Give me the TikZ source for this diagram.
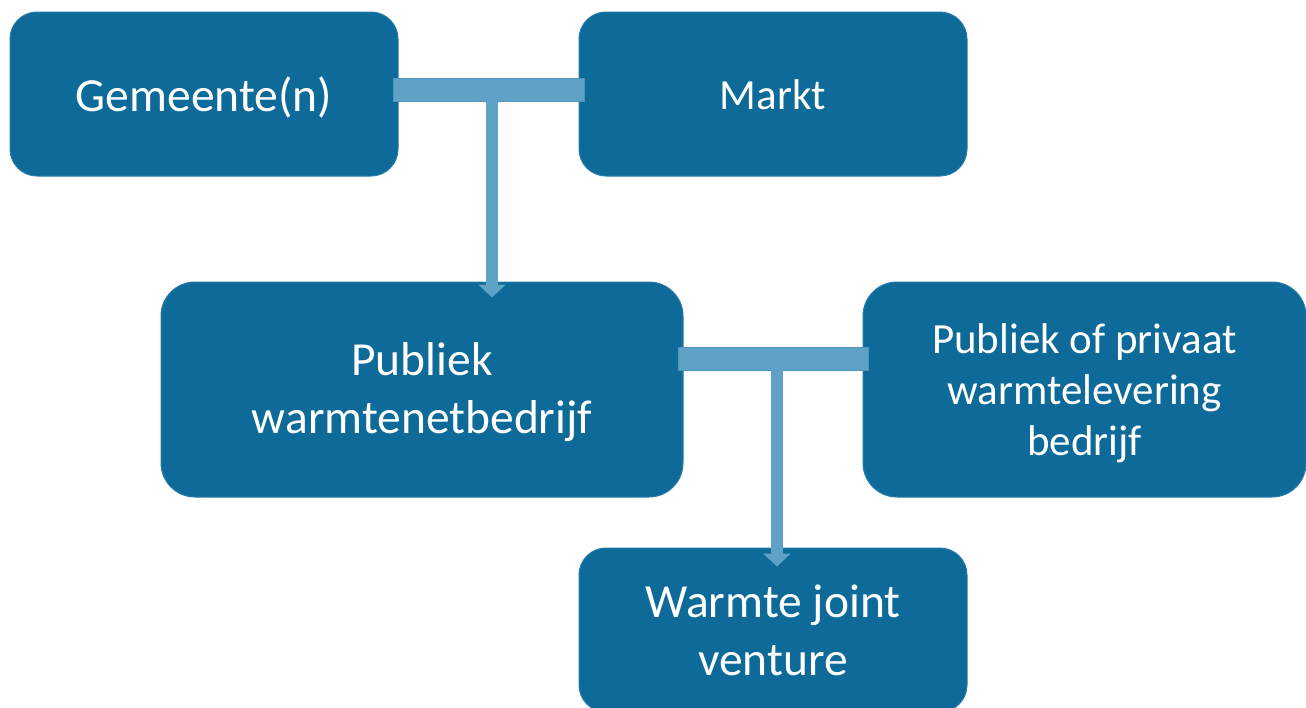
\documentclass[tikz,border=0pt]{standalone}
\usepackage{fontspec}
\setmainfont{Carlito}
\usetikzlibrary{arrows.meta}
\definecolor{boxblue}{RGB}{13,106,153}
\definecolor{boxedge}{RGB}{40,124,170}
\definecolor{barblue}{RGB}{94,162,200}
\definecolor{baredge}{RGB}{80,148,190}
\tikzset{
  orgbox/.style={draw=boxedge, line width=1pt, fill=boxblue, rounded corners=27pt,
    inner sep=0pt},
  bigbox/.style={orgbox, rounded corners=34pt},
  bigtext/.style={text=white, align=center, inner sep=0pt, font=\fontsize{47.5}{58}\selectfont},
  smalltext/.style={text=white, align=center, inner sep=0pt, font=\fontsize{43}{51}\selectfont},
  tbar/.style={draw=baredge, line width=0.8pt, fill=barblue, inner sep=0pt,
    minimum height=23pt},
  stemarrow/.style={draw=barblue, line width=12pt,
    -{Triangle[width=27pt,length=13pt]}}
}
\begin{document}
\begin{tikzpicture}[x=1pt,y=-1pt]
\useasboundingbox (0,0) rectangle (1306,707);
\clip (0,0) rectangle (1306,707);
\fill[white] (0,0) rectangle (1306,707);

\node[orgbox, minimum width=388pt, minimum height=164pt,
  label={[bigtext, yshift=-3pt]center:Gemeente(n)}] (gem) at (204,94) {};
\node[orgbox, minimum width=388pt, minimum height=164pt,
  label={[smalltext, yshift=-1pt]center:Markt}] (markt) at (773,94) {};
\node[bigbox, minimum width=522pt, minimum height=215pt,
  label={[bigtext, yshift=-3pt]center:Publiek\\warmtenetbedrijf}] (pwb) at (422,389.5) {};
\node[bigbox, minimum width=443pt, minimum height=215pt,
  label={[smalltext, yshift=-4pt]center:Publiek of privaat\\warmtelevering\\bedrijf}] (ppw) at (1084.5,389.5) {};
\node[orgbox, minimum width=388pt, minimum height=164pt,
  label={[bigtext, yshift=0pt]center:Warmte joint\\venture}] (wjv) at (773,630) {};

\node[tbar, minimum width=191pt] (bar1) at (488.5,89.5) {};
\node[tbar, minimum width=190pt] (bar2) at (773,358.5) {};

\coordinate (s1) at ([xshift=3.5pt]bar1.south);
\coordinate (s2) at ([xshift=4pt]bar2.south);
\draw[stemarrow, shorten >=-16pt] (s1) -- (s1 |- pwb.north);
\draw[stemarrow, shorten >=-19pt] (s2) -- (s2 |- wjv.north);
\end{tikzpicture}
\end{document}
